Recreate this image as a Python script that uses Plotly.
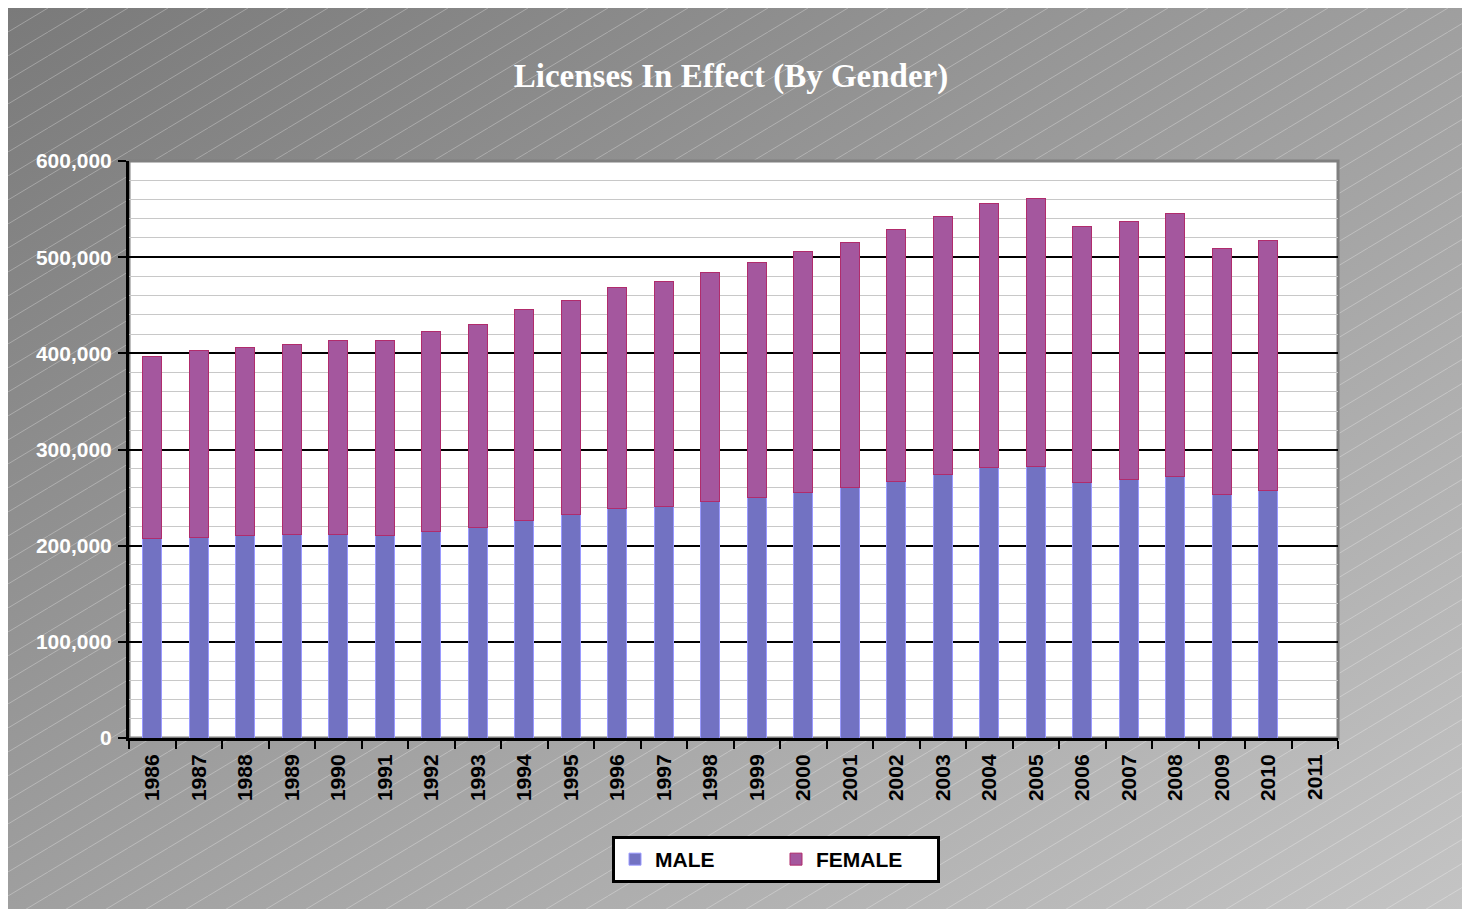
import base64
import plotly.graph_objects as go

# ---- data ----
years = [str(y) for y in range(1986, 2012)]
male = [207600, 208700, 210400, 211800, 211400, 210400, 215200, 218400, 226000, 231900,
        238400, 241200, 245700, 249900, 255800, 260000, 266900, 273800, 280800, 282800,
        266200, 269300, 272400, 253400, 257600, None]
female = [188900, 194400, 195500, 197600, 201800, 203100, 207700, 211800, 219100, 223200,
          229800, 233700, 238500, 244300, 249600, 255100, 262100, 268700, 275200, 277700,
          265200, 268300, 272500, 255400, 260200, None]
y_tickvals = [0, 100000, 200000, 300000, 400000, 500000, 600000]
y_ticktext = ["0", "100,000", "200,000", "300,000", "400,000", "500,000", "600,000"]

# figure size / plot area (figure pixel coords; page adds 8px body margin)
FW, FH = 1456, 901
L, R, T, B = 121, 1330, 153, 730
pw, ph = R - L, B - T

# ---- background (gradient + diagonal hatching) ----
svg = f'''<svg xmlns="http://www.w3.org/2000/svg" width="{FW}" height="{FH}" viewBox="0 0 {FW} {FH}">
<defs>
<linearGradient id="g" x1="0" y1="0" x2="1" y2="1">
<stop offset="0" stop-color="#7a7a7a"/>
<stop offset="1" stop-color="#c4c4c4"/>
</linearGradient>
<pattern id="p" width="40" height="24" patternUnits="userSpaceOnUse">
<line x1="0" y1="24" x2="40" y2="0" stroke="#ffffff" stroke-opacity="0.28" stroke-width="1"/>
</pattern>
</defs>
<rect width="{FW}" height="{FH}" fill="url(#g)"/>
<rect width="{FW}" height="{FH}" fill="url(#p)"/>
</svg>'''
bg_src = "data:image/svg+xml;base64," + base64.b64encode(svg.encode()).decode()

fig = go.Figure()
fig.add_trace(go.Bar(
    x=years, y=male, name="MALE",
    marker=dict(color="#7272c2", line=dict(color="#9a9aff", width=1)),
))
fig.add_trace(go.Bar(
    x=years, y=female, name="FEMALE",
    marker=dict(color="#a4579e", line=dict(color="#b02c6c", width=1)),
))

bold = dict(family="Liberation Sans, Arial, sans-serif", weight="bold")

fig.update_layout(
    width=FW, height=FH,
    barmode="stack", bargap=0.59,
    paper_bgcolor="white", plot_bgcolor="white",
    margin=dict(l=L, r=FW - R, t=T, b=FH - B, autoexpand=False),
    title=dict(
        text="Licenses In Effect (By Gender)",
        x=723 / FW, xanchor="center", y=1 - 67 / FH, yanchor="middle",
        font=dict(family="Liberation Serif, serif", size=33, color="white", weight="bold"),
    ),
    showlegend=True,
    legend=dict(
        orientation="h", x=(768 - L) / pw, xanchor="center",
        y=(B - 828) / ph, yanchor="top",
        bgcolor="white", bordercolor="black", borderwidth=3,
        font=dict(size=21, color="black", **bold),
        entrywidth=116, traceorder="normal",
    ),
    images=[dict(
        source=bg_src, xref="paper", yref="paper",
        x=-L / pw, y=1 + T / ph, sizex=FW / pw, sizey=FH / ph,
        xanchor="left", yanchor="top", sizing="stretch", layer="below",
    )],
    shapes=[dict(
        type="rect", xref="paper", yref="paper", x0=0, x1=1, y0=0, y1=1,
        line=dict(color="#808080", width=3), fillcolor="white", layer="below",
    )],
)

fig.update_xaxes(
    type="category", categoryorder="array", categoryarray=years,
    showline=True, linecolor="black", linewidth=3,
    ticks="outside", tickson="boundaries", ticklen=8, tickwidth=2, tickcolor="black",
    tickangle=-90, tickfont=dict(size=21, color="black", **bold), ticklabelstandoff=5,
    showgrid=False, zeroline=False,
)
fig.update_yaxes(
    range=[0, 600000], tickmode="array", tickvals=y_tickvals, ticktext=y_ticktext,
    showline=True, linecolor="black", linewidth=3,
    ticks="outside", ticklen=8, tickwidth=2, tickcolor="black",
    tickfont=dict(size=21, color="white", **bold), ticklabelstandoff=2,
    showgrid=True, gridcolor="black", gridwidth=2, zeroline=False,
    minor=dict(dtick=20000, tick0=0, showgrid=True, gridcolor="#c8c8c8", gridwidth=1, ticks=""),
)

fig.write_html("out.html")
